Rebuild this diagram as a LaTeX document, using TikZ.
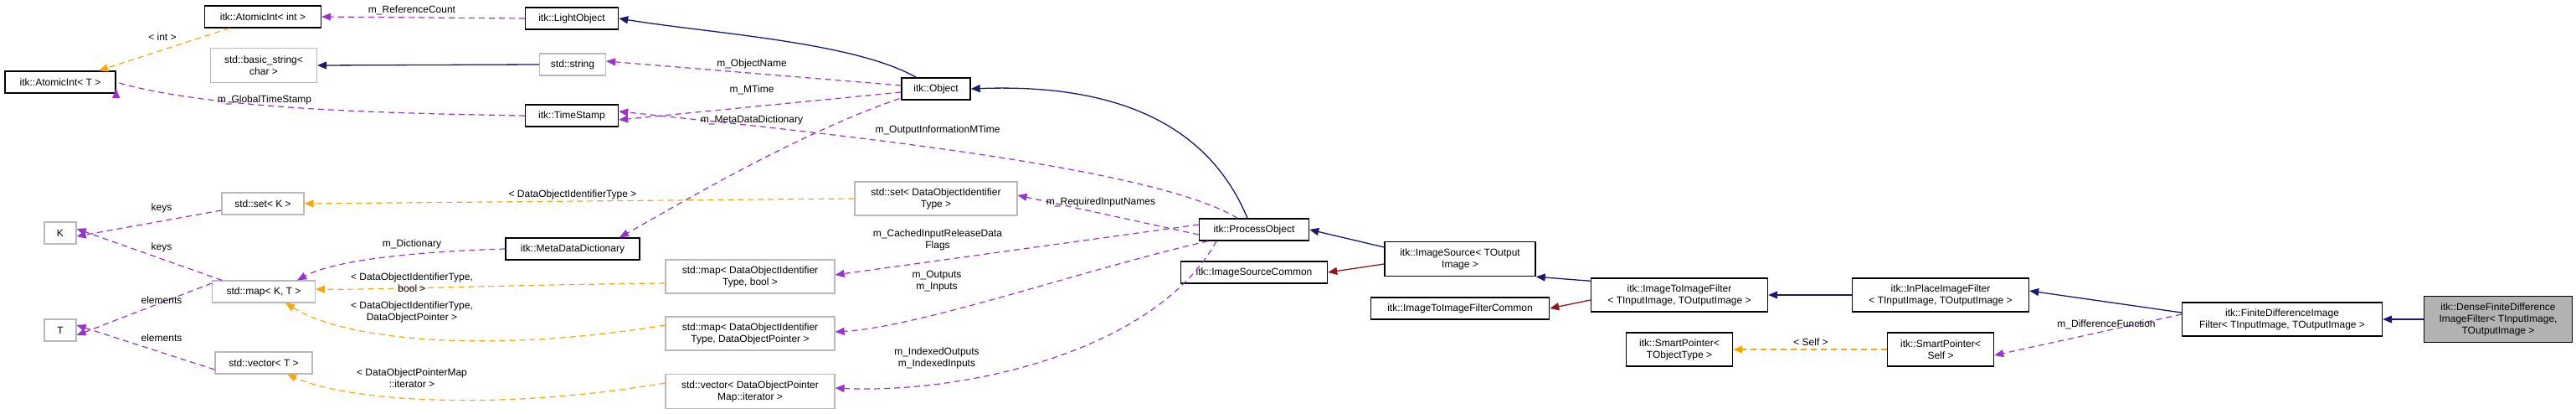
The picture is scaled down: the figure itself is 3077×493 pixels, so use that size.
\documentclass[tikz,border=0pt]{standalone}
\usepackage{fontspec}
\setmainfont{Liberation Sans}
\usetikzlibrary{arrows.meta}
\definecolor{navy}{HTML}{191970}
\definecolor{purp}{HTML}{9A32CD}
\definecolor{oran}{HTML}{FFA500}
\definecolor{dred}{HTML}{8B1A1A}
\begin{document}
\begin{tikzpicture}[x=1pt,y=-1pt,
  font=\fontsize{12}{14}\selectfont,
  box/.style={draw=black,line width=1.4pt,fill=white,inner sep=0pt,align=center,minimum height=26pt},
  gbox/.style={box,draw=gray!55,line width=1.2pt},
  tip/.style={-{Triangle[length=11pt,width=9pt]}},
  inh/.style={tip,draw=navy,line width=1.3pt,-{Triangle[length=11pt,width=9pt]},color=navy},
  inr/.style={tip,line width=1.3pt,color=dred},
  use/.style={tip,color=purp,line width=1.2pt,dash pattern=on 7pt off 5pt},
  tpl/.style={tip,color=oran,line width=1.2pt,dash pattern=on 7pt off 5pt},
  lbl/.style={inner sep=0pt,align=center,font=\fontsize{12}{14}\selectfont}]
\useasboundingbox (0,0) rectangle (3077,493);
% nodes
\node[box,minimum width=139pt] (aint) at (314,20) {itk::AtomicInt< int >};
\node[box,minimum width=111pt] (light) at (683,22) {itk::LightObject};
\node[gbox,minimum width=127pt,minimum height=41pt] (bstr) at (315,78) {std::basic\_string<\\char >};
\node[gbox,minimum width=79pt] (str) at (684,77) {std::string};
\node[box,minimum width=132pt] (aintT) at (72,98) {itk::AtomicInt< T >};
\node[box,minimum width=111pt] (ts) at (683,138) {itk::TimeStamp};
\node[gbox,minimum width=98pt] (setK) at (314,243) {std::set< K >};
\node[gbox,minimum width=38pt] (K) at (72,278) {K};
\node[box,minimum width=160pt] (mdd) at (684,297) {itk::MetaDataDictionary};
\node[gbox,minimum width=123pt] (mapKT) at (315,348) {std::map< K, T >};
\node[gbox,minimum width=38pt] (T) at (72,394) {T};
\node[gbox,minimum width=116pt] (vecT) at (315,433) {std::vector< T >};
\node[box,minimum width=82pt] (obj) at (1118,106) {itk::Object};
\node[gbox,minimum width=194pt,minimum height=40pt] (setD) at (1118,237) {std::set< DataObjectIdentifier\\Type >};
\node[box,minimum width=131pt] (po) at (1498,274) {itk::ProcessObject};
\node[box,minimum width=175pt] (isc) at (1498,325) {itk::ImageSourceCommon};
\node[gbox,minimum width=202pt,minimum height=40pt] (mapB) at (896,330) {std::map< DataObjectIdentifier\\Type, bool >};
\node[gbox,minimum width=202pt,minimum height=40pt] (mapP) at (896,398) {std::map< DataObjectIdentifier\\Type, DataObjectPointer >};
\node[gbox,minimum width=202pt,minimum height=41pt] (vecI) at (896,467) {std::vector< DataObjectPointer\\Map::iterator >};
\node[box,minimum width=180pt,minimum height=41pt] (is) at (1744,309) {itk::ImageSource< TOutput\\Image >};
\node[box,minimum width=213pt] (itic) at (1744,368) {itk::ImageToImageFilterCommon};
\node[box,minimum width=211pt,minimum height=40pt] (itif) at (2006,352) {itk::ImageToImageFilter\\< TInputImage, TOutputImage >};
\node[box,minimum width=211pt,minimum height=40pt] (ipf) at (2318,352) {itk::InPlaceImageFilter\\< TInputImage, TOutputImage >};
\node[box,minimum width=239pt,minimum height=40pt] (fdif) at (2726,381) {itk::FiniteDifferenceImage\\Filter< TInputImage, TOutputImage >};
\node[box,fill=gray!60,minimum width=177pt,minimum height=55pt] (dense) at (2984,381) {itk::DenseFiniteDifference\\ImageFilter< TInputImage,\\TOutputImage >};
\node[box,minimum width=127pt,minimum height=40pt] (spT) at (2006,417) {itk::SmartPointer<\\TObjectType >};
\node[box,minimum width=127pt,minimum height=40pt] (spS) at (2318,417) {itk::SmartPointer<\\Self >};
% inheritance
\draw[inh] (obj.north west) ++(18,0) .. controls (1020,50) and (850,40) .. (light.east);
\draw[inh] ([xshift=-8pt]po.north) .. controls (1440,140) and (1320,100) .. (obj.east);
\draw[inh] (is.west) ++(0,-14) -- (po.east);
\draw[inr] (is.west) ++(0,6) -- (isc.east);
\draw[inh] (itif.north west) ++(0,4) -- (is.south east);
\draw[inr] (itif.west) ++(0,6) -- (itic.east);
\draw[inh] (ipf.west) -- (itif.east);
\draw[inh] (fdif.west) ++(0,-8) -- ([yshift=5pt]ipf.east);
\draw[inh] (dense.west) -- (fdif.east);
\draw[inh] (str.west) -- (bstr.east);
% usage
\draw[use] (light.west) -- (aint.east);
\draw[use] (ts.west) .. controls (450,135) and (250,130) .. (aintT.east) ++(0,8);
\draw[use] (obj.west) ++(0,-4) -- ([yshift=4pt]str.east);
\draw[use] (obj.west) ++(0,4) -- ([yshift=-5pt]ts.east);
\draw[use] (obj.south west) ++(-2,-2) .. controls (950,160) and (800,250) .. ([xshift=56pt]mdd.north);
\draw[use] ([xshift=-20pt]po.north) .. controls (1380,200) and (1000,160) .. ([yshift=5pt]ts.east);
\draw[use] ([yshift=-6pt]po.west) -- ([yshift=4pt]setD.east);
\draw[use] ([yshift=6pt]po.west) -- ([yshift=2pt]mapB.east);
\draw[use] ([xshift=-55pt]po.south) .. controls (1300,320) and (1100,390) .. ([yshift=2pt]mapP.east);
\draw[use] ([xshift=-45pt]po.south) .. controls (1380,420) and (1150,470) .. ([yshift=4pt]vecI.east);
\draw[use] (setK.west) ++(0,8) -- ([yshift=-4pt]K.east);
\draw[use] ([xshift=-50pt]mapKT.north) -- ([yshift=5pt]K.east);
\draw[use] ([yshift=10pt]mapKT.west) -- ([yshift=-6pt]T.east);
\draw[use] ([yshift=-8pt]vecT.west) -- ([yshift=6pt]T.east);
\draw[use] (mdd.west) .. controls (500,300) and (400,310) .. ([xshift=40pt]mapKT.north);
\draw[use] ([yshift=6pt]fdif.west) -- ([yshift=-7pt]spS.east);
% template
\draw[tpl] ([xshift=-40pt]aint.south) -- ([xshift=46pt]aintT.north);
\draw[tpl] (setD.west) -- (setK.east);
\draw[tpl] ([yshift=-8pt]mapB.west) .. controls (600,340) and (450,346) .. ([yshift=3pt]mapKT.east);
\draw[tpl] ([yshift=10pt]mapP.west) .. controls (600,420) and (420,410) .. ([xshift=26pt]mapKT.south);
\draw[tpl] ([yshift=10pt]vecI.west) .. controls (600,490) and (420,480) .. ([xshift=28pt]vecT.south);
\draw[tpl] (spS.west) -- (spT.east);
% labels
\node[lbl] (l1) at (492,12) {m\_ReferenceCount};
\node[lbl] (l2) at (194,44) {< int >};
\node[lbl] (l3) at (316,119) {m\_GlobalTimeStamp};
\node[lbl] (l4) at (684,232) {< DataObjectIdentifierType >};
\node[lbl] (l5) at (193,248) {keys};
\node[lbl] (l6) at (193,295) {keys};
\node[lbl] (l7) at (492,291) {m\_Dictionary};
\node[lbl] (l8) at (492,337) {< DataObjectIdentifierType,\\bool >};
\node[lbl] (l9) at (492,372) {< DataObjectIdentifierType,\\DataObjectPointer >};
\node[lbl] (l10) at (193,358) {elements};
\node[lbl] (l11) at (193,403) {elements};
\node[lbl] (l12) at (492,451) {< DataObjectPointerMap\\::iterator >};
\node[lbl] (l13) at (898,76) {m\_ObjectName};
\node[lbl] (l14) at (898,107) {m\_MTime};
\node[lbl] (l15) at (898,143) {m\_MetaDataDictionary};
\node[lbl] (l16) at (1120,155) {m\_OutputInformationMTime};
\node[lbl] (l17) at (1315,241) {m\_RequiredInputNames};
\node[lbl] (l18) at (1120,286) {m\_CachedInputReleaseData\\Flags};
\node[lbl] (l19) at (1119,336) {m\_Outputs\\m\_Inputs};
\node[lbl] (l20) at (1119,427) {m\_IndexedOutputs\\m\_IndexedInputs};
\node[lbl] (l21) at (2516,387) {m\_DifferenceFunction};
\node[lbl] (l22) at (2163,408) {< Self >};
\end{tikzpicture}
\end{document}
